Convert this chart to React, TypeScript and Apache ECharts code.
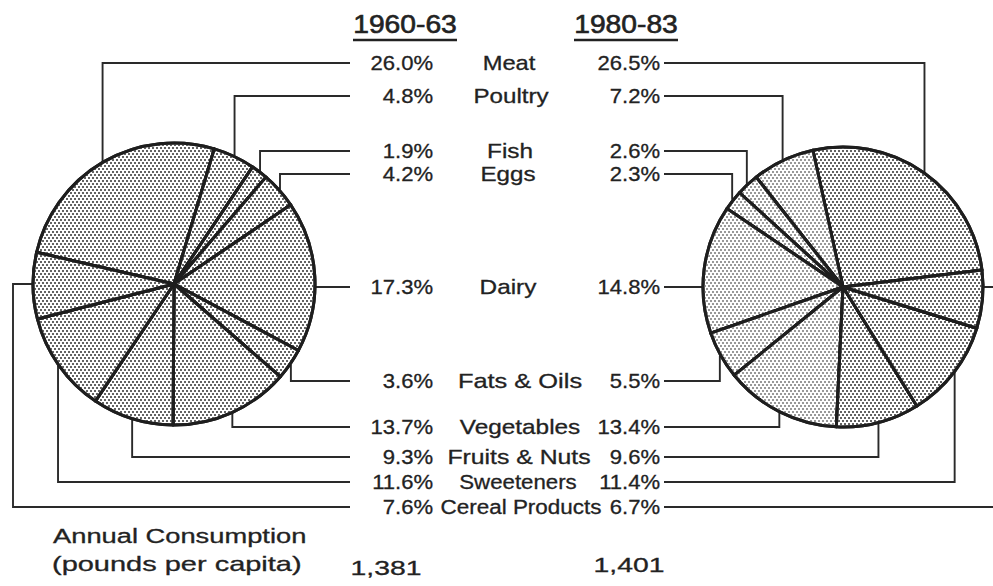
import React, { useEffect, useRef } from "react";
import * as echarts from "echarts";

// ---------------- data ----------------
const categories = [
  "Meat",
  "Poultry",
  "Fish",
  "Eggs",
  "Dairy",
  "Fats & Oils",
  "Vegetables",
  "Fruits & Nuts",
  "Sweeteners",
  "Cereal Products",
];
const share1960 = [26.0, 4.8, 1.9, 4.2, 17.3, 3.6, 13.7, 9.3, 11.6, 7.6];
const share1980 = [26.5, 7.2, 2.6, 2.3, 14.8, 5.5, 13.4, 9.6, 11.4, 6.7];
const periods = ["1960-63", "1980-83"];
const totals = ["1,381", "1,401"];
const totalsTitle = ["Annual Consumption", "(pounds per capita)"];

// ---------------- layout / style ----------------
const W = 993;
const H = 586;
const FONT_FAMILY = "Liberation Sans";
const INK = "#222";
const LINE = "#2a2a2a";
const rowY = [63, 96, 151, 174, 287, 381, 427, 457, 482, 507];
const labelX = [509, 511, 510, 508, 508, 520, 520, 519, 518, 521];
const routes = ["v", "v", "v", "v", "h", "v", "v", "v", "v", "wrap"];
const labelScale = [1.13, 1.15, 1.16, 1.15, 1.16, 1.21, 1.16, 1.18, 1.06, 1.07];
const rightLight = [false, true, true, true, true, true, true, false, false, false];

const pies = [
  { cx: 174, cy: 284, r: 142, start: 167, clockwise: true, edge: 350, outer: 13, side: 1 },
  { cx: 843, cy: 287, r: 141, start: 7, clockwise: false, edge: 664, outer: 1002, side: -1 },
];

function midPoint(values: number[], i: number, p: any) {
  const total = values.reduce((a, b) => a + b, 0);
  let cum = 0;
  for (let k = 0; k < i; k++) cum += values[k];
  const mid = ((cum + values[i] / 2) / total) * 360;
  const theta = ((p.clockwise ? p.start - mid : p.start + mid) * Math.PI) / 180;
  return [p.cx + p.r * Math.cos(theta), p.cy - p.r * Math.sin(theta)];
}

function leaders(values: number[], p: any) {
  const out: any[] = [];
  values.forEach((_, i) => {
    const y = rowY[i];
    let pts: number[][];
    if (routes[i] === "h") {
      const dx = Math.sqrt(Math.max(0, p.r * p.r - (y - p.cy) * (y - p.cy)));
      pts = [[p.edge, y], [p.cx + p.side * dx, y]];
    } else if (routes[i] === "wrap") {
      pts = [[p.edge, y], [p.outer, y], [p.outer, p.cy], [p.cx - p.side * p.r, p.cy]];
    } else {
      const [px, py] = midPoint(values, i, p);
      pts = [[p.edge, y], [px, y], [px, py]];
    }
    out.push({
      type: "polyline",
      z: 1,
      silent: true,
      shape: { points: pts },
      style: { stroke: LINE, lineWidth: 1.9, fill: null },
    });
  });
  return out;
}

function decal(color: string) {
  return {
    symbol: "rect",
    symbolSize: 1,
    color,
    dashArrayX: [[2, 2], [0, 2, 2, 0]],
    dashArrayY: [2, 1],
  };
}

function text(t: string, x: number, y: number, size: number, align: string, scaleX = 1, weight = 0.3) {
  return {
    type: "text",
    x,
    y,
    scaleX,
    z: 10,
    silent: true,
    style: {
      text: t,
      fontFamily: FONT_FAMILY,
      fontSize: size,
      fontWeight: "normal",
      fontStyle: "normal",
      fill: INK,
      stroke: INK,
      lineWidth: weight,
      align,
      verticalAlign: "middle",
    },
  };
}

export default function App() {
  const ref = useRef<HTMLDivElement>(null);
  useEffect(() => {
    document.body.style.margin = "0";
    if (!ref.current) return;
    const chart = echarts.init(ref.current, undefined, { renderer: "svg" });

    const graphics: any[] = [];
    graphics.push(...leaders(share1960, pies[0]));
    graphics.push(...leaders(share1980, pies[1]));

    // titles with underline
    const titleX = [405, 626];
    periods.forEach((t, k) => {
      graphics.push(text(t, titleX[k], 25, 25, "center", 1.13, 0.6));
      graphics.push({
        type: "line",
        z: 10,
        silent: true,
        shape: { x1: titleX[k] - 52, y1: 40, x2: titleX[k] + 52, y2: 40 },
        style: { stroke: INK, lineWidth: 2.5 },
      });
    });

    categories.forEach((c, i) => {
      graphics.push(text(share1960[i].toFixed(1) + "%", 433, rowY[i], 21, "right", 1.05));
      graphics.push(text(c, labelX[i], rowY[i], 21, "center", labelScale[i]));
      graphics.push(text(share1980[i].toFixed(1) + "%", 660, rowY[i], 21, "right", 1.05));
    });

    graphics.push(text(totalsTitle[0], 53, 536, 21, "left", 1.3));
    graphics.push(text(totalsTitle[1], 52, 564, 21, "left", 1.38));
    graphics.push(text(totals[0], 386, 567, 21, "center", 1.35));
    graphics.push(text(totals[1], 629, 564, 21, "center", 1.35));

    const mkSeries = (values: number[], p: any, light: boolean[] | null) => ({
      type: "pie",
      center: [p.cx, p.cy],
      radius: p.r - 1,
      startAngle: p.start,
      clockwise: p.clockwise,
      silent: true,
      avoidLabelOverlap: false,
      label: { show: false },
      labelLine: { show: false },
      emphasis: { disabled: true },
      z: 5,
      itemStyle: { borderColor: "#1e1e1e", borderWidth: 3 },
      data: categories.map((n, i) => ({
        name: n,
        value: values[i],
        itemStyle: {
          color: "#ffffff",
          decal: decal(light && light[i] ? "#999999" : "#636363"),
        },
      })),
    });

    chart.setOption({
      animation: false,
      backgroundColor: "#ffffff",
      series: [
        mkSeries(share1960, pies[0], null),
        mkSeries(share1980, pies[1], rightLight),
      ],
      graphic: { elements: graphics },
    });
    return () => chart.dispose();
  }, []);
  return <div ref={ref} style={{ width: W, height: H }} />;
}
